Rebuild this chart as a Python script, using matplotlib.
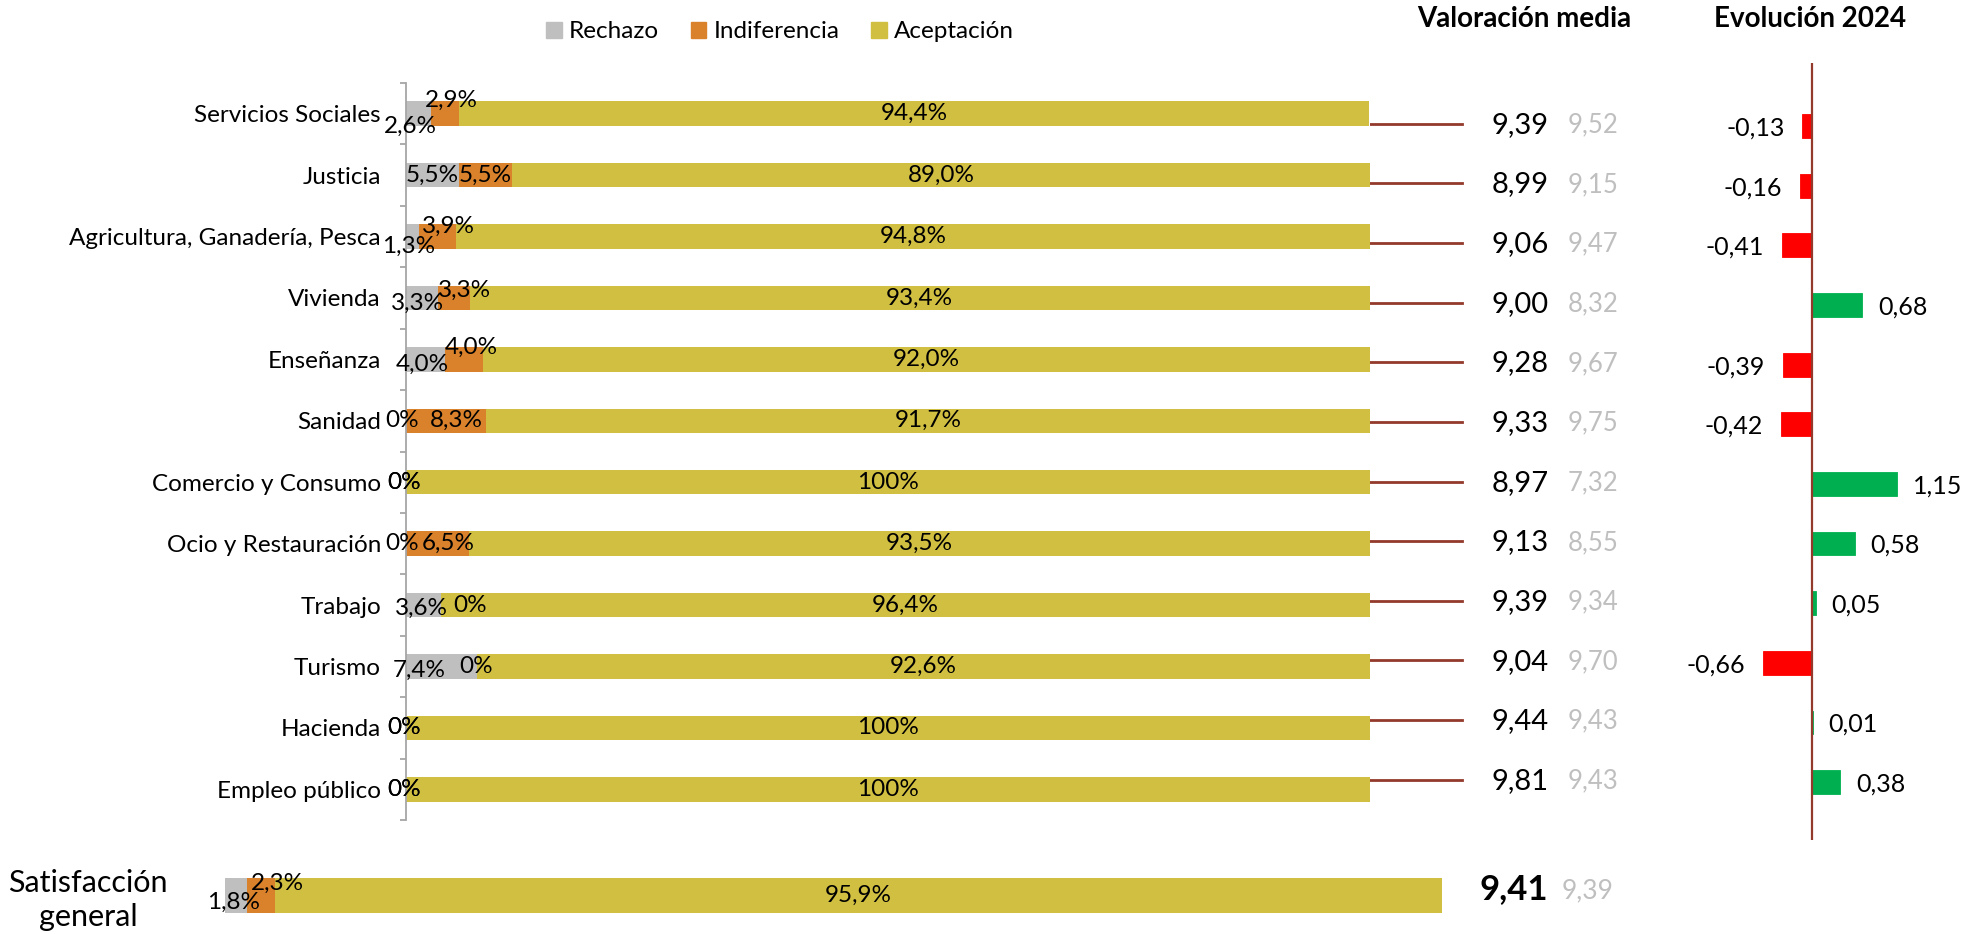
import matplotlib
matplotlib.use("Agg")
import matplotlib.pyplot as plt
from matplotlib.patches import Patch

plt.rcParams['font.family'] = ['Lato', 'DejaVu Sans']

categorias = ['Servicios Sociales', 'Justicia', 'Agricultura, Ganadería, Pesca',
              'Vivienda', 'Enseñanza', 'Sanidad', 'Comercio y Consumo',
              'Ocio y Restauración', 'Trabajo', 'Turismo', 'Hacienda',
              'Empleo público']
rechazo = [2.6, 5.5, 1.3, 3.3, 4.0, 0, 0, 0, 3.6, 7.4, 0, 0]
indiferencia = [2.9, 5.5, 3.9, 3.3, 4.0, 8.3, 0, 6.5, 0, 0, 0, 0]
aceptacion = [94.4, 89.0, 94.8, 93.4, 92.0, 91.7, 100, 93.5, 96.4, 92.6, 100, 100]
valoracion = [9.39, 8.99, 9.06, 9.00, 9.28, 9.33, 8.97, 9.13, 9.39, 9.04, 9.44, 9.81]
valoracion_ant = [9.52, 9.15, 9.47, 8.32, 9.67, 9.75, 7.32, 8.55, 9.34, 9.70, 9.43, 9.43]
evolucion = [-0.13, -0.16, -0.41, 0.68, -0.39, -0.42, 1.15, 0.58, 0.05, -0.66, 0.01, 0.38]

general = [1.8, 2.3, 95.9]   # rechazo, indiferencia, aceptación
general_val = 9.41
general_ant = 9.39

GRIS = '#BFBFBF'
NARANJA = '#D9822B'
AMARILLO = '#D1BF42'
GRANATE = '#943A2C'
ROJO = '#FF0000'
VERDE = '#00B050'

FS = 17.5   # tamaño de etiquetas de barras y categorías

W, H = 1983, 934
fig = plt.figure(figsize=(W / 100, H / 100), dpi=100)


def caja(x0, y0, x1, y1):
    # rectángulo en píxeles (origen arriba a la izquierda) -> coordenadas de figura
    return [x0 / W, 1 - y1 / H, (x1 - x0) / W, (y1 - y0) / H]


def pct(v):
    if v == 0:
        return '0%'
    if v == 100:
        return '100%'
    return f'{v:.1f}%'.replace('.', ',')


def dec(v):
    return f'{v:.2f}'.replace('.', ',')


# desplazamientos (px) de las etiquetas pequeñas para que no se pisen
desp_rech = {0: (-8, 13), 2: (-4, 10), 3: (-4, 5), 4: (-3, 5), 5: (-4, 0),
             6: (-2, 0), 7: (-4, 0), 8: (-2, 3), 9: (-22, 4), 10: (-2, 0), 11: (-2, 0)}
desp_indif = {0: (6, -13), 2: (11, -10), 3: (11, -8), 4: (7, -12), 5: (10, 0),
              6: (-2, 0), 7: (11, 0), 8: (29, 0), 9: (-1, 0), 10: (-2, 0), 11: (-2, 0)}

# --- barras apiladas por materia ---
ax = fig.add_axes(caja(406, 83, 1370, 820))
y = list(range(len(categorias)))
ax.barh(y, rechazo, height=0.4, color=GRIS)
ax.barh(y, indiferencia, left=rechazo, height=0.4, color=NARANJA)
izq = [r + i for r, i in zip(rechazo, indiferencia)]
ax.barh(y, aceptacion, left=izq, height=0.4, color=AMARILLO)

for k in y:
    dx, dy = desp_rech.get(k, (0, 0))
    ax.annotate(pct(rechazo[k]), (rechazo[k] / 2, k), xytext=(dx, -dy),
                textcoords='offset pixels', ha='center', va='center', fontsize=FS)
    dx, dy = desp_indif.get(k, (0, 0))
    ax.annotate(pct(indiferencia[k]), (rechazo[k] + indiferencia[k] / 2, k), xytext=(dx, -dy),
                textcoords='offset pixels', ha='center', va='center', fontsize=FS)
    ax.text(izq[k] + aceptacion[k] / 2, k, pct(aceptacion[k]),
            ha='center', va='center', fontsize=FS)

ax.set_xlim(0, 100)
ax.set_ylim(len(categorias) - 0.5, -0.5)
ax.set_yticks(y)
ax.set_yticklabels(categorias, fontsize=FS)
ax.set_yticks([k - 0.5 for k in range(len(categorias) + 1)], minor=True)
ax.tick_params(axis='y', which='major', length=0, pad=18)
ax.tick_params(axis='y', which='minor', length=4, width=1.3, color='#A6A6A6')
ax.set_xticks([])
for lado in ['top', 'right', 'bottom']:
    ax.spines[lado].set_visible(False)
ax.spines['left'].set_color('#A6A6A6')
ax.spines['left'].set_linewidth(1.3)

# --- satisfacción general ---
axg = fig.add_axes(caja(225, 877.7, 1442, 912.7))
axg.barh([0], [general[0]], height=1, color=GRIS)
axg.barh([0], [general[1]], left=[general[0]], height=1, color=NARANJA)
axg.barh([0], [general[2]], left=[general[0] + general[1]], height=1, color=AMARILLO)
axg.set_xlim(0, 100)
axg.set_ylim(-0.5, 0.5)
axg.axis('off')
axg.annotate(pct(general[0]), (general[0] / 2, 0), xytext=(-2, -7),
             textcoords='offset pixels', ha='center', va='center', fontsize=FS)
axg.annotate(pct(general[1]), (general[0] + general[1] / 2, 0), xytext=(17, 12),
             textcoords='offset pixels', ha='center', va='center', fontsize=FS)
axg.text(general[0] + general[1] + general[2] / 2, 0, pct(general[2]),
         ha='center', va='center', fontsize=FS)

fig.text(88 / W, 1 - 900 / H, 'Satisfacción\ngeneral', ha='center', va='center',
         fontsize=22, linespacing=1.3)
fig.text(1514 / W, 1 - 889 / H, dec(general_val), ha='center', va='center',
         fontsize=25, fontweight='bold')
fig.text(1588 / W, 1 - 891 / H, dec(general_ant), ha='center', va='center',
         fontsize=19, color=GRIS)

# --- valoración media y evolución ---
ylim_der = (11.97, -1.056)
axv = fig.add_axes(caja(1370, 63, 1700, 840))
axv.set_xlim(0, 330)
axv.set_ylim(*ylim_der)
axv.axis('off')
for k in y:
    axv.plot([0, 92], [k - 0.04, k - 0.04], color=GRANATE, lw=2)
    axv.text(150, k - 0.02, dec(valoracion[k]), ha='center', va='center', fontsize=21)
    axv.text(223, k - 0.02, dec(valoracion_ant[k]), ha='center', va='center',
             fontsize=18.5, color=GRIS)

axe = fig.add_axes(caja(1700, 63, 1983, 840))
axe.set_xlim(-1.524, 2.327)
axe.set_ylim(*ylim_der)
axe.axis('off')
colores = [VERDE if v >= 0 else ROJO for v in evolucion]
axe.barh(y, evolucion, height=0.4, color=colores, edgecolor=colores, linewidth=0.6)
axe.axvline(0, color=GRANATE, lw=1.6)
for k in y:
    v = evolucion[k]
    if v < 0:
        axe.annotate(dec(v), (v, k), xytext=(-18, -2), textcoords='offset pixels',
                     ha='right', va='center', fontsize=18)
    else:
        axe.annotate(dec(v), (v, k), xytext=(16, -2), textcoords='offset pixels',
                     ha='left', va='center', fontsize=18)

# --- cabeceras y leyenda ---
fig.text(1524 / W, 1 - 19 / H, 'Valoración media', ha='center', va='center',
         fontsize=20, fontweight='bold')
fig.text(1810 / W, 1 - 19 / H, 'Evolución 2024', ha='center', va='center',
         fontsize=20, fontweight='bold')

handles = [Patch(color=GRIS, label='Rechazo'),
           Patch(color=NARANJA, label='Indiferencia'),
           Patch(color=AMARILLO, label='Aceptación')]
fig.legend(handles=handles, loc='center', bbox_to_anchor=(780 / W, 1 - 32 / H),
           ncol=3, frameon=False, fontsize=17.5, handlelength=0.65, handleheight=0.65,
           handletextpad=0.3, columnspacing=1.3)

fig.savefig('out.png', dpi=100)
